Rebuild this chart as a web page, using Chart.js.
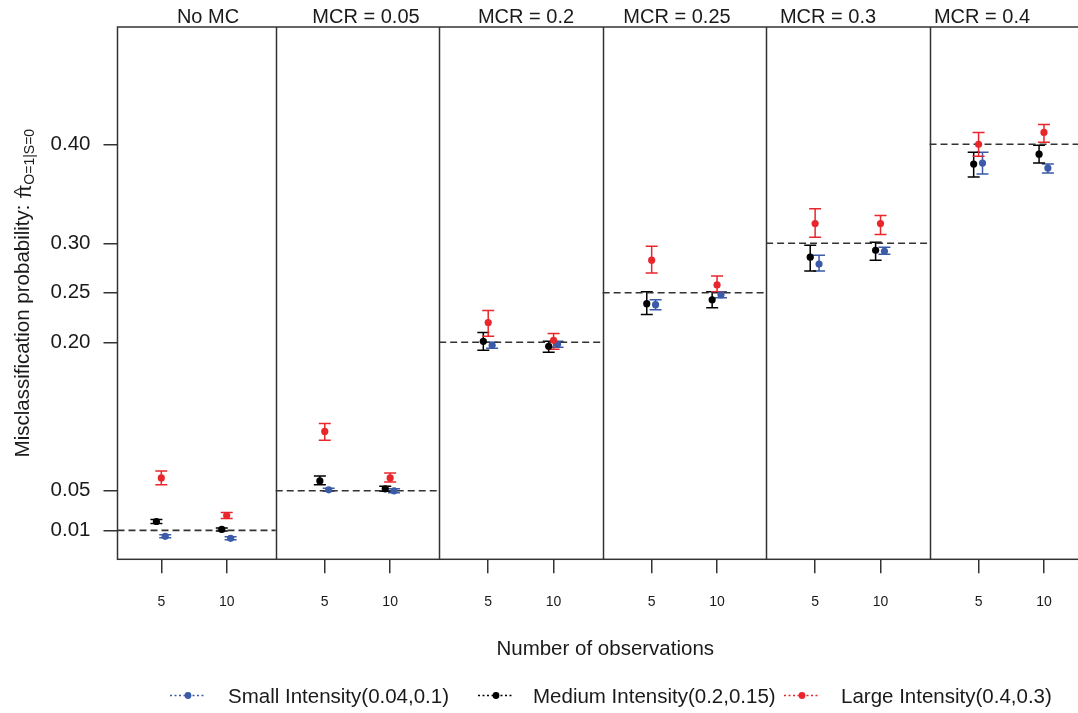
<!DOCTYPE html>
<html>
<head>
<meta charset="utf-8">
<script src="https://cdn.jsdelivr.net/npm/chart.js@4.4.1/dist/chart.umd.min.js"></script>
<style>
  html, body { margin: 0; padding: 0; background: #fff; overflow: hidden; }
  canvas { display: block; }
</style>
</head>
<body>
<canvas id="grafico" width="1100" height="713"></canvas>
<script>
// Panels, groups and axis ticks
const panels = ['No MC', 'MCR = 0.05', 'MCR = 0.2', 'MCR = 0.25', 'MCR = 0.3', 'MCR = 0.4'];
const observations = ['5', '10'];
const mcrLines = [0.01, 0.05, 0.20, 0.25, 0.30, 0.40];
const yTicks = [0.01, 0.05, 0.20, 0.25, 0.30, 0.40];

// Estimates per panel, in order (5, 10) for each panel
const smallMean = [0.004, 0.002, 0.051, 0.050, 0.197, 0.198, 0.238, 0.248, 0.279, 0.292, 0.381, 0.376];
const smallLo   = [0.0025, 0.0005, 0.0495, 0.048, 0.194, 0.195, 0.233, 0.245, 0.272, 0.289, 0.370, 0.371];
const smallHi   = [0.0055, 0.0035, 0.0525, 0.052, 0.200, 0.201, 0.243, 0.251, 0.288, 0.296, 0.392, 0.380];

const mediumMean = [0.019, 0.011, 0.060, 0.052, 0.201, 0.196, 0.239, 0.243, 0.286, 0.293, 0.380, 0.390];
const mediumLo   = [0.017, 0.0095, 0.056, 0.0495, 0.192, 0.190, 0.228, 0.235, 0.272, 0.283, 0.367, 0.381];
const mediumHi   = [0.021, 0.0125, 0.065, 0.0545, 0.210, 0.201, 0.251, 0.251, 0.298, 0.301, 0.392, 0.399];

const largeMean = [0.063, 0.025, 0.110, 0.063, 0.220, 0.202, 0.283, 0.258, 0.320, 0.320, 0.400, 0.412];
const largeLo   = [0.056, 0.022, 0.101, 0.059, 0.206, 0.193, 0.270, 0.251, 0.306, 0.309, 0.388, 0.402];
const largeHi   = [0.070, 0.028, 0.118, 0.068, 0.232, 0.209, 0.297, 0.267, 0.335, 0.328, 0.412, 0.420];

// Layout of the panel grid (x axis units)
const PANEL_W = 2.5;
const TICK_POS = [0.75, 1.75];
const FONT = '"Liberation Sans", Arial, sans-serif';
const TEXT = '#1a1a1a';
const LINE = '#333333';

Chart.defaults.font.family = FONT;
Chart.defaults.color = TEXT;

function xPos(i, shift) {
    const panel = Math.floor(i / 2);
    return panel * PANEL_W + TICK_POS[i % 2] + shift;
}

const series = [
    { label: 'Small Intensity(0.04,0.1)', color: '#3b5aa8', mean: smallMean, lo: smallLo, hi: smallHi, shift: 0.06, order: 2 },
    { label: 'Medium Intensity(0.2,0.15)', color: '#000000', mean: mediumMean, lo: mediumLo, hi: mediumHi, shift: -0.075, order: 1 },
    { label: 'Large Intensity(0.4,0.3)', color: '#e8272d', mean: largeMean, lo: largeLo, hi: largeHi, shift: 0, order: 0 }
];

// Point datasets
const pointSets = series.map(s => ({
    label: s.label,
    data: s.mean.map((v, i) => ({ x: xPos(i, s.shift), y: v })),
    lo: s.lo,
    hi: s.hi,
    backgroundColor: s.color,
    borderColor: s.color,
    borderWidth: 0,
    pointRadius: 3.6,
    order: s.order
}));

// Dashed reference line in each panel
const refSets = mcrLines.map((v, p) => ({
    label: 'ref' + p,
    data: [{ x: p === 0 ? 0.08 : p * PANEL_W, y: v }, { x: (p + 1) * PANEL_W, y: v }],
    showLine: true,
    borderColor: LINE,
    borderWidth: 1.6,
    borderDash: [7, 4],
    pointRadius: 0,
    order: 3
}));

// Error bars, drawn under the points
const errorBars = {
    id: 'errorBars',
    beforeDatasetsDraw(chart) {
        const ctx = chart.ctx;
        const y = chart.scales.y;
        chart.data.datasets.forEach((ds, di) => {
            if (!ds.lo) return;
            const meta = chart.getDatasetMeta(di);
            ctx.save();
            ctx.strokeStyle = ds.borderColor;
            ctx.lineWidth = 1.5;
            meta.data.forEach((pt, i) => {
                const yLo = y.getPixelForValue(ds.lo[i]);
                const yHi = y.getPixelForValue(ds.hi[i]);
                ctx.beginPath();
                ctx.moveTo(pt.x, yLo); ctx.lineTo(pt.x, yHi);
                ctx.moveTo(pt.x - 6, yLo); ctx.lineTo(pt.x + 6, yLo);
                ctx.moveTo(pt.x - 6, yHi); ctx.lineTo(pt.x + 6, yHi);
                ctx.stroke();
            });
            ctx.restore();
        });
    }
};

// Frame, panel dividers, strip labels, y title and legend
const stripCenters = [208, 366, 526, 677, 828, 982];
const legendPos = [{ sample: 188, text: 228 }, { sample: 496, text: 533 }, { sample: 802, text: 841 }];

const decorations = {
    id: 'decorations',
    afterDatasetsDraw(chart) {
        const ctx = chart.ctx;
        const a = chart.chartArea;
        const x = chart.scales.x;
        ctx.save();
        ctx.strokeStyle = LINE;
        ctx.lineWidth = 1.5;
        ctx.strokeRect(a.left, a.top, a.right - a.left, a.bottom - a.top);
        ctx.beginPath();
        for (let p = 1; p < panels.length; p++) {
            const px = Math.round(x.getPixelForValue(p * PANEL_W)) + 0.5;
            ctx.moveTo(px, a.top);
            ctx.lineTo(px, a.bottom);
        }
        ctx.stroke();
        ctx.restore();
    },
    afterDraw(chart) {
        const ctx = chart.ctx;
        const a = chart.chartArea;
        ctx.save();
        ctx.fillStyle = TEXT;

        // strip labels
        ctx.font = '20px ' + FONT;
        ctx.textAlign = 'center';
        ctx.textBaseline = 'alphabetic';
        panels.forEach((nome, p) => ctx.fillText(nome, stripCenters[p], 23));

        // y axis title with hat and subscript
        const main = 'Misclassification probability: ';
        const sub = 'O=1|S=0';
        ctx.font = '20.5px ' + FONT;
        const wMain = ctx.measureText(main).width;
        const wPi = ctx.measureText('π').width;
        ctx.font = '14px ' + FONT;
        const wSub = ctx.measureText(sub).width;
        ctx.translate(29, (a.top + a.bottom) / 2);
        ctx.rotate(-Math.PI / 2);
        let tx = -(wMain + wPi + wSub) / 2;
        ctx.textAlign = 'left';
        ctx.font = '20.5px ' + FONT;
        ctx.fillText(main, tx, 0);
        tx += wMain;
        ctx.fillText('π', tx, 2);
        ctx.font = '16px ' + FONT;
        ctx.textAlign = 'center';
        ctx.fillText('^', tx + wPi / 2, -3);
        ctx.textAlign = 'left';
        tx += wPi;
        ctx.font = '14px ' + FONT;
        ctx.fillText(sub, tx, 5);
        ctx.restore();

        // legend
        ctx.save();
        series.forEach((s, k) => {
            const pos = legendPos[k];
            ctx.strokeStyle = s.color;
            ctx.fillStyle = s.color;
            ctx.lineWidth = 1.3;
            ctx.setLineDash([2, 2.5]);
            ctx.beginPath();
            ctx.moveTo(pos.sample - 18, 695.5);
            ctx.lineTo(pos.sample + 18, 695.5);
            ctx.stroke();
            ctx.setLineDash([]);
            ctx.beginPath();
            ctx.arc(pos.sample, 695.5, 3.4, 0, Math.PI * 2);
            ctx.fill();
            ctx.fillStyle = TEXT;
            ctx.font = '20.5px ' + FONT;
            ctx.textAlign = 'left';
            ctx.textBaseline = 'alphabetic';
            ctx.fillText(s.label, pos.text, 703);
        });
        ctx.restore();
    }
};

const grafico = new Chart(document.getElementById('grafico'), {
    type: 'scatter',
    data: { datasets: [...pointSets, ...refSets] },
    options: {
        responsive: false,
        animation: false,
        events: [],
        layout: { padding: { top: 27, right: 7, left: 0, bottom: 0 } },
        plugins: {
            legend: { display: false },
            tooltip: { enabled: false }
        },
        scales: {
            x: {
                type: 'linear',
                min: 0.08,
                max: panels.length * PANEL_W,
                afterBuildTicks: s => {
                    s.ticks = panels.flatMap((_, p) => TICK_POS.map(t => ({ value: p * PANEL_W + t })));
                },
                afterFit: s => { s.height = 153.7; },
                ticks: {
                    autoSkip: false,
                    maxRotation: 0,
                    callback: (v, i) => observations[i % 2],
                    font: { size: 14 },
                    color: TEXT,
                    padding: 20
                },
                grid: { drawOnChartArea: false, tickLength: 14, color: LINE, lineWidth: 1.5 },
                border: { display: false },
                title: {
                    display: true,
                    text: 'Number of observations',
                    font: { size: 20.5 },
                    color: TEXT,
                    padding: { top: 0, bottom: 51 }
                }
            },
            y: {
                min: -0.0192,
                max: 0.5185,
                afterBuildTicks: s => { s.ticks = yTicks.map(v => ({ value: v })); },
                afterFit: s => { s.width = 117.5; },
                ticks: {
                    callback: v => Number(v).toFixed(2),
                    font: { size: 20.5 },
                    color: TEXT,
                    padding: 13
                },
                grid: { drawOnChartArea: false, tickLength: 14, color: LINE, lineWidth: 1.5 },
                border: { display: false }
            }
        }
    },
    plugins: [errorBars, decorations]
});
</script>
</body>
</html>
